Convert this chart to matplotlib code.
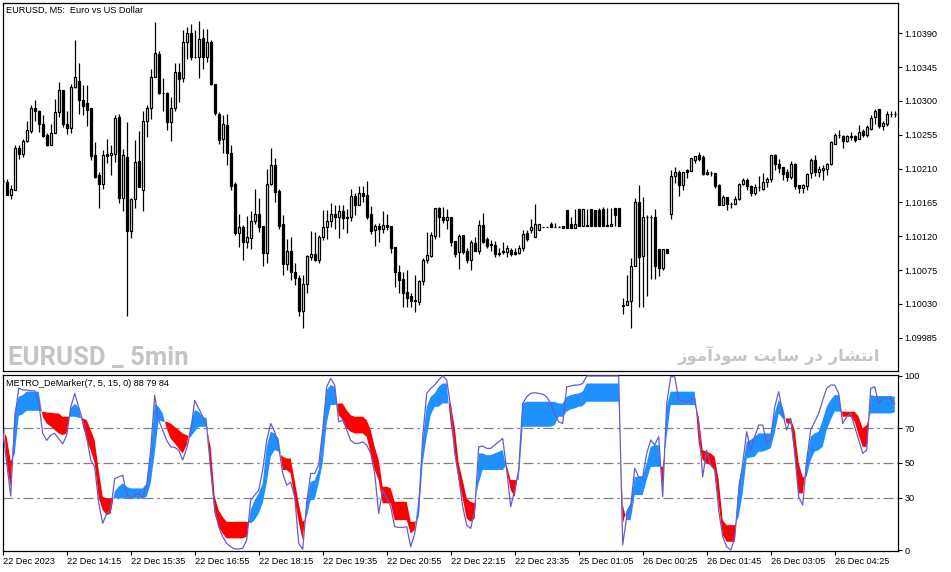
import numpy as np
import matplotlib
matplotlib.use("Agg")
import matplotlib.pyplot as plt

# ---------------- data ----------------
BASE = 1.09900  # prices stored as points (1e-5) above this base
open_pts = [294,292,275,282,337,329,347,360,390,386,369,355,342,358,385,414,369,364,418,427,
            401,397,390,328,301,290,329,328,329,378,271,325,227,269,320,282,374,390,432,463,
            411,411,372,390,438,430,479,490,459,459,484,459,479,423,383,349,368,331,290,225,
            233,213,218,240,249,234,198,289,315,280,236,183,201,172,164,120,156,193,197,188,
            219,233,240,249,246,254,245,245,274,261,278,275,250,228,234,230,235,234,206,172,
            163,146,141,135,133,160,189,194,221,257,246,242,245,214,199,222,200,189,211,201,
            235,216,210,208,198,201,199,202,199,198,205,225,229,219,228,233,233,237,233,232,
            234,255,237,231,256,234,235,256,255,255,256,235,234,257,258,128,129,134,180,265,
            194,246,246,246,203,178,203,249,300,305,288,308,307,322,328,326,306,304,304,288,
            261,272,263,263,269,289,295,287,278,285,283,292,296,328,316,312,306,299,316,288,
            284,287,304,321,306,308,309,316,343,355,354,347,354,353,350,360,355,363,378,389,
            367,369,382,382]
close_pts = [293,275,283,338,329,347,361,390,386,369,354,342,358,385,414,370,364,418,432,401,
             393,388,327,299,290,328,327,331,377,271,328,227,270,319,285,374,390,432,464,410,
             411,372,390,438,429,479,490,458,458,483,459,479,423,384,348,369,331,287,225,233,
             213,219,240,249,232,198,289,315,279,234,183,200,172,164,120,156,194,197,188,219,
             233,240,249,246,254,244,244,274,261,278,274,246,227,234,230,235,233,205,172,162,
             145,138,134,134,160,189,195,222,257,245,242,246,213,196,221,199,189,212,201,235,
             213,207,209,197,197,199,204,196,197,205,223,216,232,237,237,233,233,233,233,232,
             231,231,231,237,234,256,234,234,234,234,234,234,237,248,234,127,134,180,265,192,
             246,246,246,180,178,203,198,300,305,288,305,306,324,327,323,303,303,304,287,261,
             272,263,263,269,289,295,287,278,285,286,292,296,328,316,311,303,299,316,287,284,
             288,303,321,306,310,311,316,345,355,355,347,353,352,348,359,355,365,377,386,367,
             371,382,383,382]
high_pts = [296,296,288,342,342,349,374,394,401,388,381,357,369,402,425,415,386,422,481,450,
            421,421,391,345,306,335,349,341,381,383,336,372,271,348,360,386,394,442,505,467,
            430,412,405,450,450,494,498,503,494,506,496,496,481,423,385,381,382,342,292,250,
            235,247,253,283,271,234,310,338,324,283,248,217,219,184,168,168,195,227,226,222,
            255,255,264,262,261,262,256,283,278,287,287,294,260,236,238,253,250,234,206,182,
            173,175,144,168,162,191,226,226,258,259,259,256,246,214,223,222,204,215,219,241,
            251,219,215,214,205,213,208,204,205,209,229,228,243,263,237,233,233,239,238,234,
            234,255,246,256,256,256,256,256,255,258,259,258,258,257,258,138,168,191,271,288,
            272,248,248,256,203,203,203,308,312,308,305,310,324,327,332,328,310,307,304,290,
            275,272,266,273,291,298,297,288,289,300,304,299,328,329,323,312,309,320,317,288,
            289,304,324,328,314,315,317,347,357,361,355,355,359,355,368,363,368,381,389,389,
            373,386,387,386]
low_pts = [291,275,269,282,323,325,345,358,373,359,352,340,342,358,378,365,356,358,417,382,
           381,367,321,297,258,283,317,302,319,264,254,114,218,258,285,253,352,376,432,409,
           386,361,347,386,398,425,456,454,457,430,443,452,421,381,343,331,315,281,222,206,
           189,205,203,237,226,180,184,288,266,230,168,175,162,155,114,98,145,188,187,185,
           215,216,233,230,218,230,225,240,248,261,266,243,223,207,213,225,228,198,153,144,
           126,126,126,119,129,155,185,193,217,219,238,230,207,193,177,197,185,175,200,197,
           211,205,201,193,194,197,192,194,195,197,201,214,225,219,228,233,233,233,233,232,
           231,231,231,231,234,234,234,234,234,234,234,234,234,234,234,116,129,98,180,126,
           126,140,163,163,167,175,198,243,291,273,281,298,307,317,320,302,301,300,284,261,
           261,255,257,263,268,288,281,273,275,280,281,286,292,308,304,295,293,296,283,278,
           278,281,298,300,299,295,301,315,343,351,337,345,348,346,349,352,352,362,369,364,
           362,367,379,379]

# METRO DeMarker buffers (fast step, slow step, DeMarker)
dem_fast = [82,50,36,80,88,89,91,91,91,91,76.6,72.7,71,69,67,66,67,81.4,84,82,
            71.8,63,57.4,49.8,30,23,20,21,33.5,36.4,38.3,36.4,35.4,35.4,35.4,35.4,38.3,55.5,84,82.3,
            78.5,69.9,64,61.3,58.4,55.5,60.3,71.8,80.4,79.5,76.6,75.6,46,21,13.4,9.5,6.7,6.7,6.7,6.7,
            6.7,7.6,22.9,28.7,32.5,38.3,59.3,68,67,64,46,46,44,28.7,16.2,5.7,28.7,39.2,40,46,
            68.9,92,94.8,93.8,77.5,74.7,69.9,68,67,67,67,65,55.5,46,40.2,26.8,26.8,26.8,17.2,17.2,
            17.2,17.2,9.5,11.4,30.6,63.2,82.3,88,90,93.8,95.7,95.7,72.7,57.4,40.2,29.6,18.1,16.2,18.1,55.5,
            55.5,54.5,54.5,55.5,56.5,57.4,46,34.4,30.6,46,84.2,85.2,85.2,85.2,85.2,85.2,85.2,85.2,85.2,84.2,
            84.2,88,89,89.6,90,91,95.7,95.7,95.7,95.7,95.7,95.7,95.7,95.7,95.7,15,22.9,26.8,42,42,
            42,49.8,59.3,60.3,60.3,36.4,82.3,91,91,91,91,91,91,91,61.3,51.7,49.8,48.8,46,26.8,
            8.6,4.7,4.7,4.7,38.3,47.8,62.2,63.2,65.1,67,67,67,67,78.5,86.2,82.3,72.7,72.7,55.5,32.5,
            32.5,51.7,65.1,67,68,74.7,82.3,86.2,89,89,76.6,76.6,76.6,73.7,66,59.3,59.3,89,88.5,88.5,
            88.5,88.5,88.5,88]
dem_slow = [69,65,51,55,77,78,80,80,80,80,79.5,79,79,78.5,78.5,76.6,76.6,76.6,76.6,76,
            75.6,74.7,69,63,46,30.6,29.6,29.6,29.6,29.6,29.6,29.6,29.6,29.6,29.6,29.6,30.6,38.3,55.5,74.7,
            73.7,73.7,72.7,70.8,69,67,66,65,68,70.8,70.8,70.8,59,30.6,22.9,19,16.2,16.2,16.2,16.2,
            16.2,16.2,15.3,17.2,21,26.8,38.3,53.6,57.4,56.5,53.6,52.6,52.6,40,26.8,16.2,19,28.5,29,38.3,
            49.8,72.7,83.3,83.3,84.2,84.2,80.4,77.5,76.6,76.6,76.6,74.7,69,59.3,51.7,36.4,36.4,35.4,27.7,27.7,
            27.7,27.7,16.2,16.2,19,49.8,65,77.5,82.3,82.3,84.2,84.2,84.2,70.8,49.8,40.2,29.6,27.7,26.8,38.3,
            46,46,46,46,46,46,48.8,40.2,40.2,40.2,70.8,70.8,70.8,70.8,70.8,70.8,70.8,70.8,71.8,76.6,
            76.6,79.5,80.8,81.4,82.3,82.7,85.2,85.2,85.2,85.2,85.2,85.2,85.2,85.2,85.2,26,17.2,17.2,31.6,31.6,
            31.6,40.2,47.8,47.8,47.8,47.8,65.1,83.3,83.3,83.3,83.3,83.3,83.3,83.3,76.6,57.4,56.5,55.5,53.6,40.2,
            17.2,14.3,14.3,14.3,19.1,32.5,52.6,53.2,53.6,56.5,56.5,57.4,58.4,67,78.5,75.6,75.6,75.6,69,49.8,
            42,42,51.7,56.5,57.4,59.3,68.9,74.7,79.5,79.5,79.5,79.5,79.5,79.5,76.6,69.9,71.8,78.5,78.5,78.5,
            78.5,78.5,78.5,79]
dem_line = [69,50,31,75,93,92,92,91.5,91.5,85,67,63,66,67,64,61,66,82,90,82,
            74.7,65,51.7,47.8,27,15.3,21,23,41,42,43,32.5,29.6,31.5,32.5,29.6,37.3,57.4,89,74.7,
            68.9,63,59.3,59,57.4,51.7,58.4,68,86,81.4,76.6,70.8,46,23,13.4,7.6,3.8,1.9,0.6,0.6,
            1,5.7,28.7,31.5,34.4,46,63,72.7,68,59.3,44,37.3,39,30.6,3.8,0.4,26.8,44,44,49,
            69,93.8,98.6,94.8,73.7,74.7,69,63,61.3,61.3,62.2,60.3,55.5,44,21,34.4,29.6,24.9,13.4,13,
            13,13.4,1.9,9.5,22.9,65,90,92.9,94.8,97.7,100,97.7,82.3,55.5,42,24.9,14.3,12.4,22.9,59.3,
            59.7,58.4,58.4,60.3,62.2,64.1,46,24.9,34.4,46,84.2,88,90,90.4,90,89.6,88,84.2,78.5,73.7,
            72.7,93.8,94.2,94.8,94.8,95.7,100,100,100,100,100,100,100,100,100,3,19,24.9,46.9,42,
            42,55.5,63.2,60.3,65.1,30.6,84.2,99.6,99.6,86.2,85.8,85.2,86.2,87.1,72.7,42,57.4,48.8,46,22.9,
            7.6,1.9,0,6.7,34.4,49.8,68,57.4,65.1,71.8,71.8,61.3,64.1,82.3,91,78.5,69,75.6,55.5,30.6,
            25.8,51.7,69,73.7,78.5,86.2,92.9,94.8,94.8,90,72.7,76.6,78.5,70.8,63.2,55.5,57.4,92.9,93.8,84.2,
            87.1,87.1,87.1,84]

price_ticks = [1.09985, 1.10030, 1.10075, 1.10120, 1.10165, 1.10210, 1.10255, 1.10300, 1.10345, 1.10390]
ind_ticks = [0, 30, 50, 70, 100]
ind_levels = [30, 50, 70]
time_tick_bars = [0, 16, 32, 48, 64, 80, 96, 112, 128, 144, 160, 176, 192, 208]
time_tick_labels = ["22 Dec 2023", "22 Dec 14:15", "22 Dec 15:35", "22 Dec 16:55", "22 Dec 18:15",
                    "22 Dec 19:35", "22 Dec 20:55", "22 Dec 22:15", "22 Dec 23:35", "25 Dec 01:05",
                    "26 Dec 00:25", "26 Dec 01:45", "26 Dec 03:05", "26 Dec 04:25"]

# ---------------- figure ----------------
W, H = 951, 572
fig = plt.figure(figsize=(W / 100, H / 100), dpi=100)
fig.patch.set_facecolor("white")
FONT = ["Liberation Sans", "DejaVu Sans"]
FS = 6.6

def rect(l, t, r, b):
    return [l / W, 1 - b / H, (r - l) / W, (b - t) / H]

ax1 = fig.add_axes(rect(2.5, 2.5, 898, 371))
ax2 = fig.add_axes(rect(2.5, 375, 898, 551))

o = BASE + np.array(open_pts) * 1e-5
c = BASE + np.array(close_pts) * 1e-5
h = BASE + np.array(high_pts) * 1e-5
l = BASE + np.array(low_pts) * 1e-5
x = np.arange(len(c))
bull = c >= o

ax1.vlines(x, l, h, color="black", lw=0.9, zorder=2)
ax1.bar(x, np.abs(c - o), bottom=np.minimum(o, c), width=0.6,
        color=np.where(bull, "white", "black"), edgecolor="black", linewidth=0.9, zorder=3)

xmin = -0.05
xmax = xmin + (898 - 2.5) / 4.0
ax1.set_xlim(xmin, xmax)
ax1.set_ylim(1.099408, 1.1043097)

ax1.yaxis.tick_right()
ax1.set_yticks(price_ticks)
ax1.set_yticklabels([f"{p:.5f}" for p in price_ticks], fontsize=FS, family=FONT)
ax1.tick_params(axis="y", direction="out", length=3, width=0.8, pad=1.5, colors="black")
ax1.set_xticks([])

fast = np.array(dem_fast, dtype=float)
slow = np.array(dem_slow, dtype=float)
dem = np.array(dem_line, dtype=float)

for lv in ind_levels:
    ax2.axhline(lv, color="#808080", lw=0.9, ls=(0, (8, 3, 2, 3)), zorder=1)
ax2.fill_between(x, fast, slow, where=fast >= slow, interpolate=True, color="#1E90FF", lw=0, zorder=2)
ax2.fill_between(x, fast, slow, where=fast <= slow, interpolate=True, color="#FF0000", lw=0, zorder=2)
ax2.plot(x, dem, color="#6A5ACD", lw=0.9, zorder=3)

ax2.set_xlim(xmin, xmax)
ax2.set_ylim(-0.57, 100.57)
ax2.yaxis.tick_right()
ax2.set_yticks(ind_ticks)
ax2.set_yticklabels([str(v) for v in ind_ticks], fontsize=FS, family=FONT)
ax2.tick_params(axis="y", direction="out", length=3, width=0.8, pad=1.5)
ax2.set_xticks(time_tick_bars)
ax2.set_xticklabels(time_tick_labels, fontsize=FS, family=FONT, ha="left")
ax2.tick_params(axis="x", direction="out", length=3, width=0.8, pad=1.5)

for ax in (ax1, ax2):
    for s in ax.spines.values():
        s.set_linewidth(0.9)
        s.set_color("black")

# texts
fig.text(6 / W, 1 - 10 / H, "EURUSD, M5:  Euro vs US Dollar", fontsize=FS, family=FONT,
         va="center", ha="left")
fig.text(6 / W, 1 - 383 / H, "METRO_DeMarker(7, 5, 15, 0) 88 79 84", fontsize=FS, family=FONT,
         va="center", ha="left")
fig.text(8 / W, 1 - 365 / H, "EURUSD _ 5min", fontsize=18.5, fontweight="bold",
         family=["Roboto", "DejaVu Sans"], color="#c4c4c4", va="baseline", ha="left")
# Persian watermark "انتشار در سایت سودآموز" written with Arabic presentation forms in visual order
fa_text = "\uFEAF\uFEEE\uFEE3\uFE81\uFEA9\uFEEE\uFEB3 \uFE96\uFEF3\uFE8E\uFEB3 \uFEAD\uFEA9 \uFEAD\uFE8E\uFEB8\uFE98\uFEE7\uFE8D"
fig.text(880 / W, 1 - 361 / H, fa_text, fontsize=11.8, fontweight="bold",
         family=["DejaVu Sans"], color="#c4c4c4", va="baseline", ha="right")

fig.savefig("out.png", dpi=100)
